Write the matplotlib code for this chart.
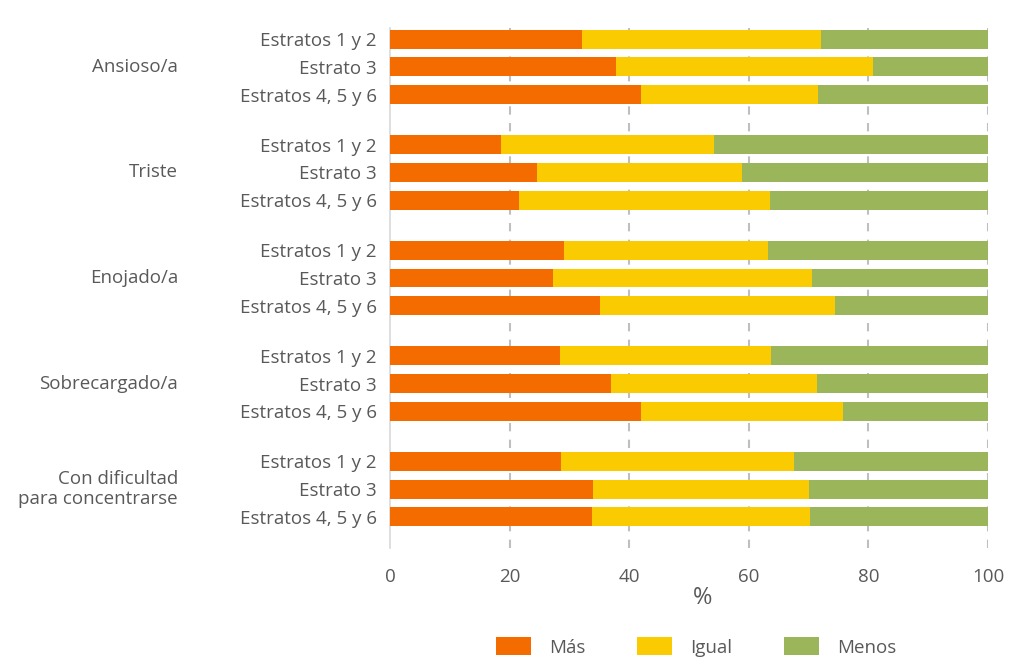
import matplotlib
matplotlib.use("Agg")
import matplotlib.pyplot as plt
import numpy as np

plt.rcParams['font.family'] = ['Open Sans', 'DejaVu Sans']

# data
groups = ["Ansioso/a", "Triste", "Enojado/a", "Sobrecargado/a",
          "Con dificultad\npara concentrarse"]
strata = ["Estratos 1 y 2", "Estrato 3", "Estratos 4, 5 y 6"]
series = ["Más", "Igual", "Menos"]

mas = [32.1, 37.8, 41.9,
       18.5, 24.5, 21.6,
       29.1, 27.2, 35.1,
       28.4, 37.0, 41.9,
       28.6, 33.9, 33.7]
igual_end = [72.0, 80.8, 71.6,
             54.1, 58.9, 63.5,
             63.2, 70.5, 74.4,
             63.7, 71.4, 75.7,
             67.6, 70.0, 70.2]

mas = np.array(mas)
igual = np.array(igual_end) - mas
menos = 100 - mas - igual

colors = ["#F46B00", "#FACB00", "#9BB55A"]
text_col = "#595959"
fs = 13.5

group_step = 3.8
ypos = np.array([g * group_step + r for g in range(len(groups)) for r in range(len(strata))])

fig = plt.figure(figsize=(10.35, 6.59), dpi=100)
ax = fig.add_axes([0.3768, 0.1684, 0.5778, 0.7891])

h = 0.68
ax.barh(ypos, mas, height=h, color=colors[0], label=series[0], zorder=3)
ax.barh(ypos, igual, left=mas, height=h, color=colors[1], label=series[1], zorder=3)
ax.barh(ypos, menos, left=mas + igual, height=h, color=colors[2], label=series[2], zorder=3)

ax.set_xlim(0, 100)
ax.set_ylim(ypos[-1] + 1.12, -0.4)
ax.set_xticks([0, 20, 40, 60, 80, 100])
ax.set_yticks(ypos)
ax.set_yticklabels(strata * len(groups))
ax.tick_params(axis='y', length=0, pad=9.5, labelsize=fs, labelcolor=text_col)
ax.tick_params(axis='x', length=0, pad=14.5, labelsize=fs, labelcolor=text_col)

for s in ["top", "right", "bottom"]:
    ax.spines[s].set_visible(False)
ax.spines["left"].set_color("#D9D9D9")
ax.spines["left"].set_linewidth(1.2)

for v in [20, 40, 60, 80, 100]:
    ax.axvline(v, color="#BFBFBF", linestyle=(0, (4, 4)), linewidth=1.5, zorder=1)

for g, name in enumerate(groups):
    ax.text(-0.3545, g * group_step + 1, name, transform=ax.get_yaxis_transform(),
            ha="right", va="center", fontsize=fs, color=text_col, linespacing=1.1)

fig.text(703 / 1035, 1 - 598 / 659, "%", ha="center", va="center",
         fontsize=17, color=text_col)

fig.legend(loc="center", bbox_to_anchor=(696 / 1035, 1 - 647 / 659), ncol=3,
           frameon=False, fontsize=fs, labelcolor=text_col,
           handlelength=1.87, handleheight=1.1, handletextpad=0.96, columnspacing=2.77,
           borderpad=0.2)

fig.savefig("out.png", dpi=100)
